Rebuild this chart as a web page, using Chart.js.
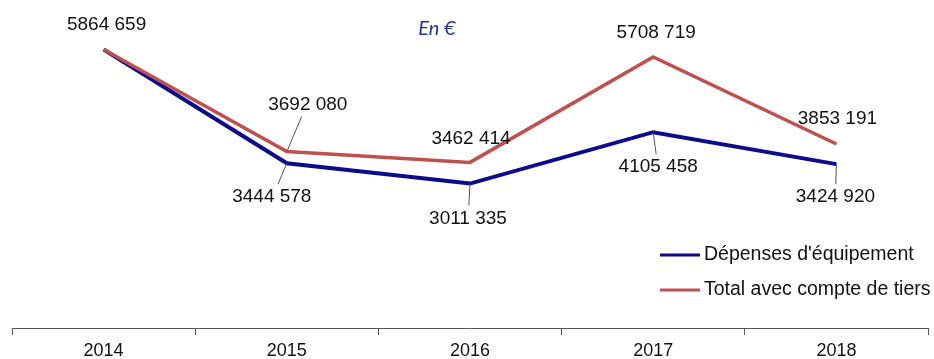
<!DOCTYPE html>
<html>
<head>
<meta charset="utf-8">
<script src="https://cdn.jsdelivr.net/npm/chart.js@4/dist/chart.umd.min.js"></script>
<style>
  html, body { margin: 0; padding: 0; background: #fff; }
  #wrap { width: 934px; height: 359px; position: relative; }
</style>
</head>
<body>
<div id="wrap"><canvas id="chart"></canvas></div>
<script>
// data
const years = ['2014', '2015', '2016', '2017', '2018'];
const depenses = [5864659, 3444578, 3011335, 4105458, 3424920];
const totalTiers = [5864659, 3692080, 3462414, 5708719, 3853191];
const seriesNames = ["Dépenses d'équipement", 'Total avec compte de tiers'];

const BLUE = '#0b0b8c';
const RED = '#c0504d';

// label placement relative to the point: [dx, dy, leader?]
const blueLabelPos = [null, [-15, 34, true], [-2, 35, true], [5, 35, true], [-1, 33, true]];
const redLabelPos = [[3, -25, false], [21, -47, true], [1, -24, false], [3, -24, false], [1, -25, false]];

// only the last three digits are split off, as in the source
function fmt(v) {
    const s = String(v);
    return s.slice(0, -3) + ' ' + s.slice(-3);
}

const labelsPlugin = {
    id: 'labels',
    afterDatasetsDraw(chart) {
        const ctx = chart.ctx;
        const xs = chart.scales.x, ys = chart.scales.y;
        ctx.save();
        ctx.font = '19px "Liberation Sans", Arial, sans-serif';
        ctx.textAlign = 'center';
        ctx.textBaseline = 'middle';
        const drawSet = (values, pos) => {
            values.forEach((v, i) => {
                const p = pos[i];
                if (!p) return;
                const px = xs.getPixelForValue(i);
                const py = ys.getPixelForValue(v);
                const lx = px + p[0], ly = py + p[1];
                if (p[2]) {
                    ctx.strokeStyle = '#555';
                    ctx.lineWidth = 1;
                    ctx.beginPath();
                    ctx.moveTo(px, py);
                    const ey = p[1] > 0 ? ly - 13 : ly + 12;
                    const t = (ey - py) / (ly - py);
                    ctx.lineTo(px + (lx - px) * t * 0.95, ey);
                    ctx.stroke();
                }
                ctx.fillStyle = '#111';
                ctx.fillText(fmt(v), lx, ly);
            });
        };
        drawSet(depenses, blueLabelPos);
        drawSet(totalTiers, redLabelPos);

        // unit note
        ctx.font = 'italic 20px Lato, "Open Sans", sans-serif';
        ctx.fillStyle = '#1f3a8a';
        ctx.fillText('En €', 437, 29);

        // legend
        ctx.font = '19.5px "Liberation Sans", Arial, sans-serif';
        ctx.textAlign = 'left';
        [[BLUE, 255], [RED, 290]].forEach((s, k) => {
            ctx.strokeStyle = s[0];
            ctx.lineWidth = 3;
            ctx.beginPath();
            ctx.moveTo(660, s[1]);
            ctx.lineTo(700, s[1]);
            ctx.stroke();
            ctx.fillStyle = '#111';
            ctx.fillText(seriesNames[k], 704, s[1]);
        });
        ctx.restore();
    }
};

new Chart(document.getElementById('chart'), {
    type: 'line',
    data: {
        labels: years,
        datasets: [
            { label: seriesNames[0], data: depenses, borderColor: BLUE, borderWidth: 4, order: 1 },
            { label: seriesNames[1], data: totalTiers, borderColor: RED, borderWidth: 3.5, order: 0 }
        ]
    },
    options: {
        responsive: true,
        maintainAspectRatio: false,
        animation: false,
        layout: { padding: { left: 12, right: 6, top: 0, bottom: 0 } },
        elements: { point: { radius: 0 }, line: { tension: 0 } },
        datasets: { line: { clip: false } },
        plugins: { legend: { display: false }, tooltip: { enabled: false } },
        scales: {
            x: {
                offset: true,
                afterFit(scale) { scale.height = 31; },
                grid: { offset: true, drawOnChartArea: false, color: '#555', tickLength: 7 },
                border: { color: '#555', width: 1 },
                ticks: { color: '#111', padding: 5, font: { family: '"Liberation Sans", Arial, sans-serif', size: 18 } }
            },
            y: { display: false, min: -64000, max: 6920000 }
        }
    },
    plugins: [labelsPlugin]
});
</script>
</body>
</html>
